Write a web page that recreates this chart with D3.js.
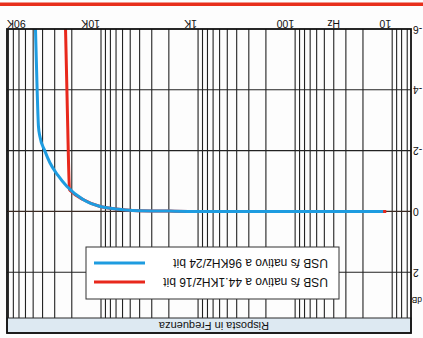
<!DOCTYPE html>
<html>
<head>
<meta charset="utf-8">
<script src="https://cdn.jsdelivr.net/npm/d3@7"></script>
<style>
  body{margin:0;background:#fff;}
  text{font-family:"Liberation Sans",Arial,sans-serif;fill:#111;}
</style>
</head>
<body>
<div class="container"></div>
<script>
// data (freq in Hz, level in dB)
const freqRed  = [11.5, 100, 1000, 2000, 4700, 7000, 10200, 15300, 20000, 21100, 22100, 23200, 23500];
const dbRed    = [0, 0, 0, -0.01, -0.03, -0.08, -0.16, -0.39, -0.64, -0.72, -3.0, -6.0, -6.6];
const freqBlue = [12.4, 100, 1000, 2000, 4700, 7000, 10200, 15300, 22400, 28000, 33600, 38000, 42600, 44100, 45500, 47300, 48000];
const dbBlue   = [0, 0, 0, -0.01, -0.03, -0.08, -0.16, -0.39, -0.82, -1.2, -1.6, -2.0, -2.46, -2.8, -4.0, -6.0, -6.8];

const seriesNames = ['USB fs nativo a 44.1KHz/16 bit', 'USB fs nativo a 96KHz/24 bit'];
const gridFreqs = [7,8,9,10,20,30,40,50,60,70,80,90,100,200,300,400,500,600,700,800,900,
                   1000,2000,3000,4000,5000,6000,7000,8000,9000,10000,20000,30000,40000,50000,60000,70000,80000,90000];
const xTickVals = [10, 100, 1000, 10000];
const xTickText = ['10', '100', '1K', '10K'];
const yTicks = [-6, -4, -2, 0, 2];

const W = 423, H = 338;
const svg = d3.select('.container').append('svg')
  .attr('width', W).attr('height', H);

svg.append('rect').attr('width', W).attr('height', H).attr('fill', '#fdfdfd');

// the scan is upside down, so draw normally and turn the whole thing
const g = svg.append('g').attr('transform', `rotate(180 ${W/2} ${H/2})`);

const x = d3.scaleLog().domain([6.4, 93000]).range([12, 416]);
const y = d3.scaleLinear().domain([-6, 4]).range([309, 5]);

// red rule of the magazine page
g.append('rect').attr('x', 0).attr('y', 332).attr('width', W).attr('height', 3.5).attr('fill', '#e8301c');

// vertical grid
g.selectAll('.vg').data(gridFreqs).enter().append('line')
  .attr('x1', d => x(d)).attr('x2', d => x(d))
  .attr('y1', y(-6)).attr('y2', y(4))
  .attr('stroke', '#222').attr('stroke-width', 1.1);

// horizontal grid
g.selectAll('.hg').data([-4, -2, 0, 2]).enter().append('line')
  .attr('x1', x.range()[0]).attr('x2', x.range()[1])
  .attr('y1', d => y(d)).attr('y2', d => y(d))
  .attr('stroke', d => d === 0 ? '#3a2a22' : '#222')
  .attr('stroke-width', d => d === 0 ? 1.4 : 1.1);

// curves
g.append('clipPath').attr('id', 'plot').append('rect')
  .attr('x', x.range()[0]).attr('y', y(4)).attr('width', 404).attr('height', y(-6) - y(4));

const line = d3.line().x(d => x(d[0])).y(d => y(d[1])).curve(d3.curveMonotoneX);

g.append('path').datum(d3.zip(freqRed, dbRed))
  .attr('d', line).attr('fill', 'none').attr('stroke', '#e8281c').attr('stroke-width', 3)
  .attr('clip-path', 'url(#plot)');
g.append('path').datum(d3.zip(freqBlue, dbBlue))
  .attr('d', line).attr('fill', 'none').attr('stroke', '#1e9ce0').attr('stroke-width', 3)
  .attr('clip-path', 'url(#plot)');

// title bar
g.append('rect').attr('x', 12).attr('y', 5).attr('width', 404).attr('height', 15)
  .attr('fill', '#dde9f2').attr('stroke', '#2b2b2b').attr('stroke-width', 1);
g.append('text').attr('x', 209).attr('y', 16.5).attr('text-anchor', 'middle')
  .attr('font-size', 11).text('Risposta in Frequenza');

// frame
g.append('rect').attr('x', 12).attr('y', 5).attr('width', 404).attr('height', 304)
  .attr('fill', 'none').attr('stroke', '#111').attr('stroke-width', 1.8);

// legend
const leg = g.append('g');
leg.append('rect').attr('x', 84).attr('y', 39).attr('width', 253).attr('height', 52)
  .attr('fill', '#fff').attr('stroke', '#333').attr('stroke-width', 1);
const legColors = ['#e8281c', '#1e9ce0'];
seriesNames.forEach(function(name, i){
  const ly = 56 + i * 19;
  const t = leg.append('text').attr('x', 95).attr('y', ly + 4).attr('font-size', 12);
  const parts = name.split(' fs ');
  t.append('tspan').text(parts[0] + ' ');
  t.append('tspan').attr('font-style', 'italic').text('f');
  t.append('tspan').text('s ' + parts[1]);
  leg.append('line').attr('x1', 278).attr('x2', 329).attr('y1', ly).attr('y2', ly)
    .attr('stroke', legColors[i]).attr('stroke-width', 3);
});

// x labels
g.selectAll('.xl').data(xTickVals).enter().append('text')
  .attr('x', d => x(d) + 1).attr('y', 318).attr('font-size', 10.5)
  .text((d, i) => xTickText[i]);
g.append('text').attr('x', 83).attr('y', 318).attr('font-size', 10.5).text('Hz');
g.append('text').attr('x', 416).attr('y', 318).attr('font-size', 10.5)
  .attr('text-anchor', 'end').text('90K');

// y labels
g.selectAll('.yl').data(yTicks).enter().append('text')
  .attr('x', 10).attr('y', d => y(d) + 3.5).attr('font-size', 10.5)
  .attr('text-anchor', 'end').text(d => d);
g.append('text').attr('x', 1).attr('y', 41).attr('font-size', 8.5).text('dB');
</script>
</body>
</html>
